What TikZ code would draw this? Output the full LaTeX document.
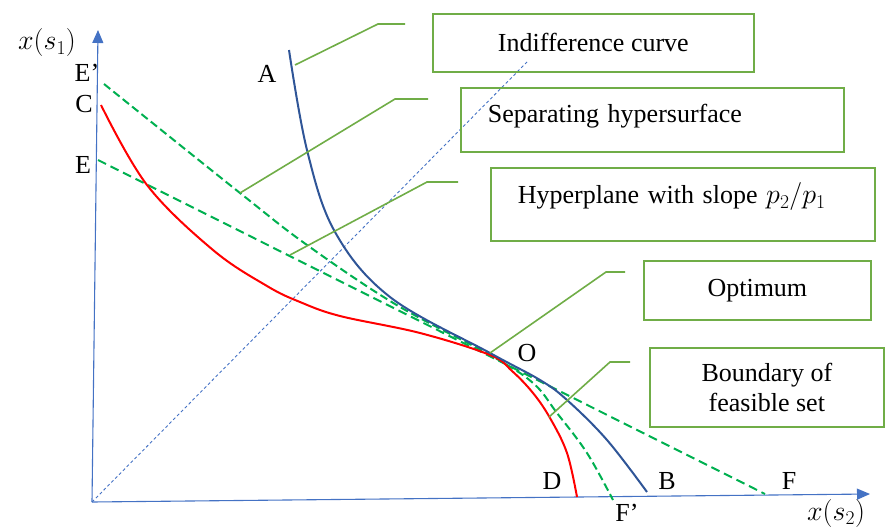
\documentclass[tikz,border=0pt]{standalone}
\usepackage{fix-cm}
\usepackage{fontspec}
\setmainfont{Liberation Serif}
\usetikzlibrary{arrows.meta}
\definecolor{boxgreen}{HTML}{70AD47}
\definecolor{dashgreen}{HTML}{00B050}
\definecolor{axisblue}{HTML}{4472C4}
\definecolor{curveblue}{HTML}{2F5597}
\definecolor{curvered}{HTML}{FF0000}
\begin{document}
\begin{tikzpicture}[x=1pt,y=-1pt,
  lbl/.style={inner sep=0pt, font=\fontsize{26}{30}\selectfont},
  mlbl/.style={inner sep=0pt, font=\fontsize{28}{32}\selectfont},
  box/.style={draw=boxgreen, line width=1.7pt, inner sep=0pt, font=\fontsize{26}{30}\selectfont, anchor=north west},
  callout/.style={draw=boxgreen, line width=1.6pt},
  axisline/.style={draw=axisblue, line width=1.1pt, -{Triangle[length=13pt,width=11pt]}},
  hyper/.style={draw=dashgreen, line width=2pt, dash pattern=on 9pt off 5pt},
  sephyp/.style={draw=dashgreen, line width=2pt, dash pattern=on 8pt off 4pt},
  curvR/.style={draw=curvered, line width=2pt},
  curvB/.style={draw=curveblue, line width=2pt},
  diag/.style={draw=axisblue, line width=0.9pt, dash pattern=on 3pt off 2.5pt}
]
\useasboundingbox (0,0) rectangle (885,527);

% axes
\coordinate (O0) at (92,502);
\coordinate (Ytip) at (98,30);
\coordinate (Xtip) at (870,494);
\draw[axisline] (O0) -- (Ytip);
\draw[axisline] (O0) -- (Xtip);
\coordinate (Dend) at (527,62);
\draw[diag] (O0) -- (Dend);

% hyperplane EF
\coordinate (Ept) at (98,160);
\coordinate (Fpt) at (765,494);
\draw[hyper] (Ept) -- (Fpt);

% separating hypersurface E'F'
\draw[sephyp] plot[smooth, tension=0.6] coordinates {(104,84) (240,193) (307,245) (395,304) (490,355) (533,383) (557,413) (587,453) (613,500)};

% feasible set boundary CD
\draw[curvR] plot[smooth, tension=0.6] coordinates {(101,105) (147,185) (213,250) (267,286) (300,302) (340,316) (420,333) (490,355) (512,371) (533,393) (550,418) (567,453) (577,497)};

% indifference curve AB
\draw[curvB] plot[smooth, tension=0.6] coordinates {(289,50) (307,150) (335,232) (390,297) (490,353) (540,380) (567,400) (607,440) (647,492)};

% axis labels
\node[mlbl] (ys) at (47,43) {$x(s_1)$};
\node[mlbl] (xs) at (836,513) {$x(s_2)$};

% point labels
\node[lbl] (lEp) at (87,73) {E’};
\node[lbl] (lC) at (84,104) {C};
\node[lbl] (lE) at (83,165) {E};
\node[lbl] (lA) at (267,74) {A};
\node[lbl] (lO) at (527,353) {O};
\node[lbl] (lD) at (552,481) {D};
\node[lbl] (lB) at (667,481) {B};
\node[lbl] (lF) at (789,481) {F};
\node[lbl] (lFp) at (627,513) {F’};

% boxes
\node[box, minimum width=321pt, minimum height=58pt] (bInd) at (432,13) {Indifference curve};
\node[box, minimum width=383pt, minimum height=64pt, text width=365pt, align=left, text depth=14pt] (bSep) at (460,87) {\hspace*{18pt}Separating hypersurface};
\node[box, minimum width=384pt, minimum height=73pt, text width=366pt, align=left, text depth=22pt] (bHyp) at (490,167) {\hspace*{18pt}Hyperplane with slope {\fontsize{28}{32}\selectfont$p_2/p_1$}};
\node[box, minimum width=227pt, minimum height=59pt] (bOpt) at (643,260) {Optimum};
\node[box, minimum width=234pt, minimum height=79pt, align=center] (bBnd) at (649,347) {Boundary of\\feasible set};

% callouts
\coordinate (c1a) at (295,65);
\coordinate (c1b) at (378,24);
\coordinate (c1c) at (405,24);
\draw[callout] (c1a) -- (c1b) -- (c1c);
\coordinate (c2a) at (240,193);
\coordinate (c2b) at (395,99);
\coordinate (c2c) at (428,99);
\draw[callout] (c2a) -- (c2b) -- (c2c);
\coordinate (c3a) at (290,255);
\coordinate (c3b) at (427,182);
\coordinate (c3c) at (458,182);
\draw[callout] (c3a) -- (c3b) -- (c3c);
\coordinate (c4a) at (490,353);
\coordinate (c4b) at (606,272);
\coordinate (c4c) at (625,272);
\draw[callout] (c4a) -- (c4b) -- (c4c);
\coordinate (c5a) at (549,417);
\coordinate (c5b) at (610,362);
\coordinate (c5c) at (630,362);
\draw[callout] (c5a) -- (c5b) -- (c5c);
\end{tikzpicture}
\end{document}
